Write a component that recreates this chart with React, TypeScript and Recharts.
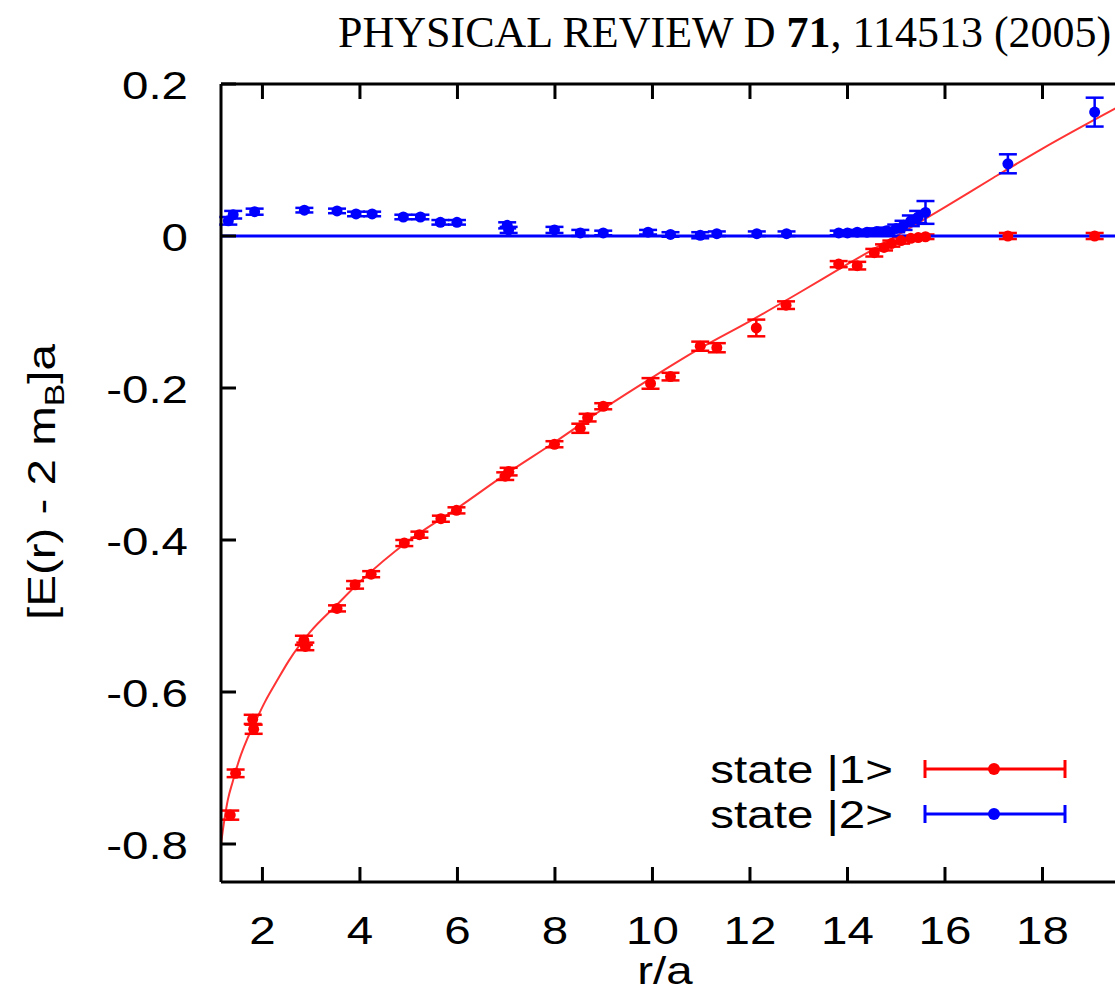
import React from 'react';
import { ComposedChart, Scatter, Line, XAxis, YAxis, ErrorBar, ReferenceLine } from 'recharts';

// state |1> (red) measurements
const state1X = [1.34, 1.45, 1.8, 1.82, 2.85, 2.88, 3.53, 3.9, 4.23, 4.91, 5.22, 5.66, 5.98, 6.98, 7.05, 7.99, 8.52, 8.67, 8.99, 9.96, 10.37, 10.98, 11.32, 12.13, 12.74, 13.82, 14.2, 14.55, 14.75, 14.9, 15.1, 15.3, 15.45, 15.6, 17.29, 19.07];
const state1Y = [-0.762, -0.707, -0.636, -0.649, -0.532, -0.54, -0.49, -0.459, -0.445, -0.404, -0.393, -0.372, -0.361, -0.316, -0.31, -0.274, -0.253, -0.239, -0.224, -0.194, -0.185, -0.145, -0.147, -0.121, -0.091, -0.037, -0.039, -0.022, -0.015, -0.01, -0.006, -0.003, -0.002, -0.001, 0.0, 0.0];
const state1Err = [0.006, 0.005, 0.006, 0.006, 0.006, 0.005, 0.004, 0.005, 0.004, 0.004, 0.004, 0.004, 0.004, 0.005, 0.005, 0.004, 0.006, 0.005, 0.004, 0.007, 0.005, 0.006, 0.006, 0.011, 0.005, 0.004, 0.005, 0.005, 0.004, 0.004, 0.004, 0.003, 0.003, 0.003, 0.004, 0.004];

// state |2> (blue) measurements
const state2X = [1.3, 1.4, 1.84, 2.86, 3.53, 3.92, 4.25, 4.89, 5.24, 5.65, 5.99, 7.02, 7.05, 7.99, 8.52, 8.99, 9.91, 10.37, 10.98, 11.32, 12.14, 12.75, 13.82, 14.0, 14.2, 14.4, 14.6, 14.8, 15.0, 15.15, 15.3, 15.45, 15.6, 17.29, 19.07];
const state2Y = [0.02, 0.028, 0.032, 0.034, 0.033, 0.029, 0.029, 0.025, 0.025, 0.018, 0.018, 0.014, 0.008, 0.008, 0.004, 0.004, 0.005, 0.002, 0.001, 0.003, 0.003, 0.003, 0.004, 0.004, 0.005, 0.005, 0.006, 0.007, 0.01, 0.014, 0.02, 0.025, 0.031, 0.095, 0.163];
const state2Err = [0.005, 0.005, 0.004, 0.003, 0.003, 0.003, 0.003, 0.003, 0.003, 0.003, 0.003, 0.004, 0.004, 0.004, 0.004, 0.003, 0.003, 0.003, 0.004, 0.003, 0.003, 0.003, 0.003, 0.003, 0.003, 0.003, 0.004, 0.004, 0.005, 0.006, 0.007, 0.008, 0.015, 0.0125, 0.019];

// fit curve
const fitX = [1.15, 1.22, 1.29, 1.39, 1.53, 1.68, 1.84, 2.06, 2.3, 2.54, 2.98, 3.5, 4, 5, 6, 7, 8, 9, 10, 11, 12, 13, 14, 15, 16, 17, 18, 19.5];
const fitY = [-0.8, -0.768, -0.742, -0.718, -0.688, -0.663, -0.641, -0.612, -0.585, -0.559, -0.521, -0.487, -0.455, -0.401, -0.358, -0.313, -0.271, -0.227, -0.186, -0.147, -0.112, -0.075, -0.037, 0.0, 0.038, 0.077, 0.115, 0.168];

const xTicks = [2, 4, 6, 8, 10, 12, 14, 16, 18];
const yTicks = [-0.8, -0.6, -0.4, -0.2, 0, 0.2];
const legendNames = ['state |1>', 'state |2>'];
const legendColors = ['#ff0000', '#0000ff'];

const state1Data = state1X.map((x, i) => ({ x, y: state1Y[i], err: state1Err[i] }));
const state2Data = state2X.map((x, i) => ({ x, y: state2Y[i], err: state2Err[i] }));
const fitData = fitX.map((x, i) => ({ x, y: fitY[i] }));

const FONT = '"Liberation Sans", Arial, sans-serif';
const SERIF = '"Liberation Serif", "Times New Roman", serif';
const FS = 38;
const SX = 1.25;
const TICK = 15;
const X_MARGIN = 62;
const Y_MARGIN = 33;

// ticks point into the plot, so the tick marks are drawn here with the labels
const XTick = (props: any) => (
  <g>
    <line x1={props.x} x2={props.x} y1={props.y - X_MARGIN} y2={props.y - X_MARGIN - TICK} stroke="#000" strokeWidth={3} />
    <text transform={`translate(${props.x},${props.y}) scale(${SX},1)`} textAnchor="middle" fontSize={FS} fontFamily={FONT} fill="#000">
      {props.payload.value}
    </text>
  </g>
);

const TopTick = (props: any) => (
  <line x1={props.x} x2={props.x} y1={props.y} y2={props.y + TICK} stroke="#000" strokeWidth={3} />
);

const YTick = (props: any) => {
  const v = props.payload.value;
  return (
    <g>
      <line x1={props.x + Y_MARGIN} x2={props.x + Y_MARGIN + TICK} y1={props.y} y2={props.y} stroke="#000" strokeWidth={3} />
      <text transform={`translate(${props.x},${props.y + 15}) scale(${SX},1)`} textAnchor="end" fontSize={FS} fontFamily={FONT} fill="#000">
        {v === 0 ? '0' : v.toFixed(1)}
      </text>
    </g>
  );
};

const dot = (color: string) => (p: any) => <circle cx={p.cx} cy={p.cy} r={5.5} fill={color} />;

export default function App() {
  return (
    <div style={{ position: 'absolute', left: 0, top: 0, width: 1115, height: 992, overflow: 'hidden', background: '#fff' }}>
      <ComposedChart width={1140} height={992} margin={{ top: 83, right: 0, bottom: 0, left: 0 }}>
        <XAxis
          type="number"
          dataKey="x"
          domain={[1.15, 20]}
          ticks={xTicks}
          allowDataOverflow
          height={110}
          tickSize={0}
          tickMargin={X_MARGIN}
          tick={XTick}
          tickLine={false}
          axisLine={{ stroke: '#000', strokeWidth: 3 }}
        />
        <XAxis
          xAxisId="top"
          orientation="top"
          type="number"
          dataKey="x"
          domain={[1.15, 20]}
          ticks={xTicks}
          allowDataOverflow
          height={1}
          tickSize={0}
          tickMargin={0}
          tick={TopTick}
          tickLine={false}
          axisLine={{ stroke: '#000', strokeWidth: 3 }}
        />
        <YAxis
          type="number"
          domain={[-0.85, 0.2]}
          ticks={yTicks}
          allowDataOverflow
          width={221}
          tickSize={0}
          tickMargin={Y_MARGIN}
          tick={YTick}
          tickLine={false}
          axisLine={{ stroke: '#000', strokeWidth: 3 }}
        />
        <Line data={fitData} dataKey="y" type="monotone" stroke="#ff0000" strokeOpacity={0.8} strokeWidth={2} dot={false} isAnimationActive={false} />
        <Scatter data={state1Data} dataKey="y" fill="#ff0000" shape={dot('#ff0000')} isAnimationActive={false}>
          <ErrorBar dataKey="err" direction="y" width={9} stroke="#ff0000" strokeWidth={2.5} />
        </Scatter>
        <ReferenceLine y={0} stroke="#0000ff" strokeWidth={3} />
        <Scatter data={state2Data} dataKey="y" fill="#0000ff" shape={dot('#0000ff')} isAnimationActive={false}>
          <ErrorBar dataKey="err" direction="y" width={9} stroke="#0000ff" strokeWidth={2.5} />
        </Scatter>
      </ComposedChart>
      <svg width={1115} height={992} style={{ position: 'absolute', left: 0, top: 0, pointerEvents: 'none' }}>
        <text x={338} y={47} fontSize={44} fontFamily={SERIF} fill="#000">
          PHYSICAL REVIEW D <tspan fontWeight="bold">71</tspan>, 114513 (2005)
        </text>
        <text transform={`translate(55,482) rotate(-90) scale(${SX},1)`} textAnchor="middle" fontSize={FS} fontFamily={FONT} fill="#000">
          [E(r) - 2 m<tspan dy={9} fontSize={27}>B</tspan><tspan dy={-9}>]a</tspan>
        </text>
        <text transform={`translate(665,984) scale(${SX},1)`} textAnchor="middle" fontSize={FS} fontFamily={FONT} fill="#000">
          r/a
        </text>
        {legendNames.map((name, i) => {
          const y = 769 + i * 45;
          const c = legendColors[i];
          return (
            <g key={name}>
              <text transform={`translate(893,${y + 14}) scale(${SX},1)`} textAnchor="end" fontSize={FS} fontFamily={FONT} fill="#000">
                {name}
              </text>
              <line x1={925} x2={1065} y1={y} y2={y} stroke={c} strokeWidth={3} />
              <line x1={925} x2={925} y1={y - 9} y2={y + 9} stroke={c} strokeWidth={3} />
              <line x1={1065} x2={1065} y1={y - 9} y2={y + 9} stroke={c} strokeWidth={3} />
              <circle cx={994} cy={y} r={6} fill={c} />
            </g>
          );
        })}
      </svg>
    </div>
  );
}
